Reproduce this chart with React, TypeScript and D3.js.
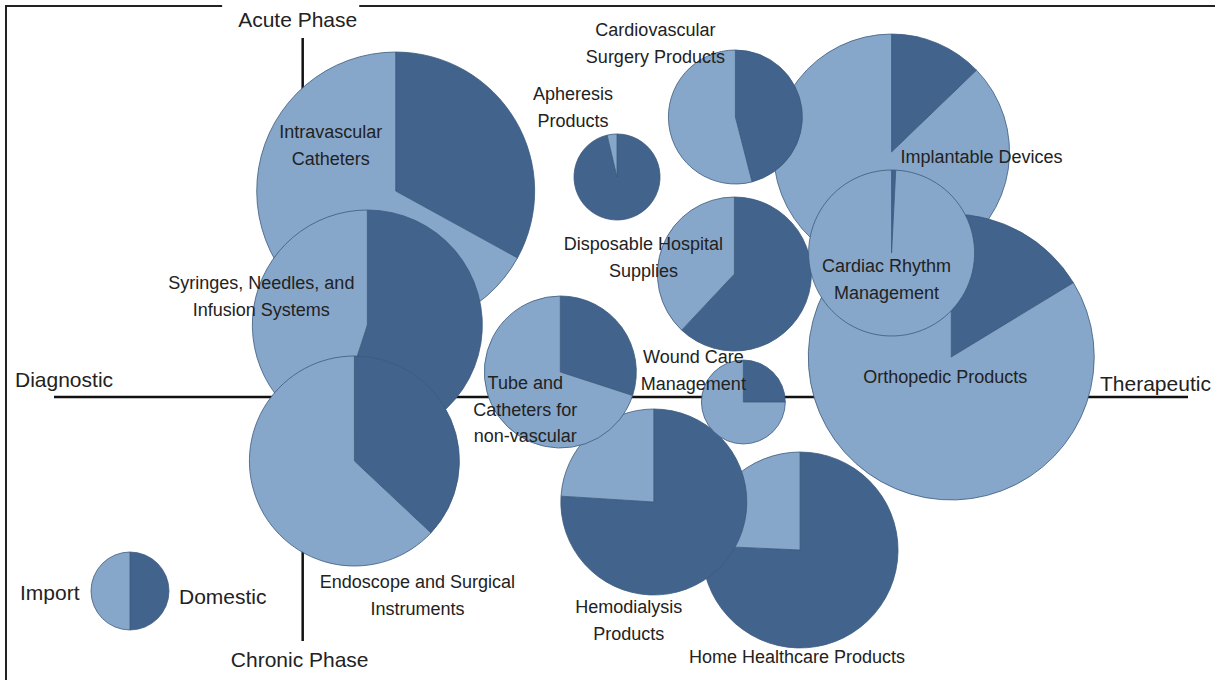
import React, { useEffect, useRef } from "react";
import * as d3 from "d3";

// market segments, position on the two axes, market size and domestic share
const segments = [
  "Implantable Devices",
  "Orthopedic Products",
  "Cardiovascular Surgery Products",
  "Disposable Hospital Supplies",
  "Cardiac Rhythm Management",
  "Intravascular Catheters",
  "Syringes, Needles, and Infusion Systems",
  "Endoscope and Surgical Instruments",
  "Home Healthcare Products",
  "Hemodialysis Products",
  "Tube and Catheters for non-vascular",
  "Wound Care Management",
  "Apheresis Products",
];
const labelLines = [
  ["Implantable Devices"],
  ["Orthopedic Products"],
  ["Cardiovascular", "Surgery Products"],
  ["Disposable Hospital", "Supplies"],
  ["Cardiac Rhythm", "Management"],
  ["Intravascular", "Catheters"],
  ["Syringes, Needles, and", "Infusion Systems"],
  ["Endoscope and Surgical", "Instruments"],
  ["Home Healthcare Products"],
  ["Hemodialysis", "Products"],
  ["Tube and", "Catheters for", "non-vascular"],
  ["Wound Care", "Management"],
  ["Apheresis", "Products"],
];
// diagnostic (-) .. therapeutic (+)
const therapeutic = [59.2, 65.2, 43.5, 43.4, 59.2, 9.35, 6.5, 5.2, 50.0, 35.3, 25.9, 44.3, 31.6];
// chronic (-) .. acute (+)
const acute = [24.5, 4.0, 28.0, 12.3, 14.4, 20.6, 7.2, -6.4, -15.3, -10.5, 2.5, -0.5, 22.0];
const marketSize = [1392, 2045, 449, 593, 689, 1932, 1323, 1103, 960, 865, 578, 176, 185];
const domesticShare = [0.128, 0.163, 0.46, 0.62, 0.008, 0.33, 0.55, 0.37, 0.757, 0.76, 0.3, 0.25, 0.963];

const legendSize = 152;
const legendShare = 0.5;

// label placement relative to each pie centre (layout only)
const labelOffsets = [
  [90, 5], [-6, 20], [-80, -87], [-91, -30], [-5, 13], [-65, -59], [-106, -42],
  [63, 121], [-3, 107], [-25, 105], [-35, 11], [-50, -45], [-44, -83],
];

const W = 1215;
const H = 680;
const LIGHT = "#86a7ca";
const DARK = "#41638c";
const EDGE = "#3c5a7e";
const FONT = "Liberation Sans, Arial, sans-serif";

export default function App() {
  const ref = useRef<SVGSVGElement>(null);

  useEffect(() => {
    const svg = d3.select(ref.current);
    svg.selectAll("*").remove();

    const x = d3.scaleLinear().domain([-25, 89]).range([54, 1188]);
    const y = d3.scaleLinear().domain([-24.3, 35.9]).range([640, 38]);
    const r = d3.scaleSqrt().domain([0, 2000]).range([0, 141.4]);

    const pie = d3.pie<number>().sort(null).value(d => d);

    // frame (top and left only)
    svg.append("path")
      .attr("d", `M6,${H} L6,6 L${W},6`)
      .attr("fill", "none")
      .attr("stroke", "#222")
      .attr("stroke-width", 2);

    // axes
    svg.append("line")
      .attr("x1", 54).attr("x2", 1188)
      .attr("y1", y(0)).attr("y2", y(0))
      .attr("stroke", "#111").attr("stroke-width", 2.5);
    svg.append("line")
      .attr("x1", x(0)).attr("x2", x(0))
      .attr("y1", 38).attr("y2", 641)
      .attr("stroke", "#111").attr("stroke-width", 2.5);

    const axisLabel = (t: string, px: number, py: number, anchor: string, bg = false) => {
      const g = svg.append("g");
      const txt = g.append("text")
        .attr("x", px).attr("y", py)
        .attr("text-anchor", anchor)
        .attr("dominant-baseline", "middle")
        .attr("font-family", FONT)
        .attr("font-size", 21)
        .attr("fill", "#222")
        .text(t);
      if (bg) {
        const b = (txt.node() as SVGTextElement).getBBox();
        g.insert("rect", "text")
          .attr("x", b.x - 16).attr("y", 0)
          .attr("width", b.width + 18).attr("height", b.y + b.height)
          .attr("fill", "#fff");
      }
    };
    axisLabel("Acute Phase", x(0) - 5, 21, "middle", true);
    axisLabel("Chronic Phase", x(0) - 3, 661, "middle");
    axisLabel("Diagnostic", 15, 381, "start");
    axisLabel("Therapeutic", 1100, 385, "start");

    const drawPie = (cx: number, cy: number, rad: number, share: number) => {
      const arc = d3.arc<d3.PieArcDatum<number>>().innerRadius(0).outerRadius(rad);
      const g = svg.append("g").attr("transform", `translate(${cx},${cy})`);
      g.selectAll("path")
        .data(pie([share, 1 - share]))
        .join("path")
        .attr("d", arc)
        .attr("fill", (_, i) => (i === 0 ? DARK : LIGHT))
        .attr("stroke", EDGE)
        .attr("stroke-width", 0.8)
        .attr("stroke-linejoin", "round");
    };

    segments.forEach((_, i) => {
      drawPie(x(therapeutic[i]), y(acute[i]), r(marketSize[i]), domesticShare[i]);
    });

    // labels on top
    segments.forEach((_, i) => {
      const cx = x(therapeutic[i]) + labelOffsets[i][0];
      const cy = y(acute[i]) + labelOffsets[i][1];
      const t = svg.append("text")
        .attr("text-anchor", "middle")
        .attr("font-family", FONT)
        .attr("font-size", 18)
        .attr("fill", "#222");
      labelLines[i].forEach((line, k) => {
        t.append("tspan")
          .attr("x", cx)
          .attr("y", cy + k * 26.5)
          .attr("dy", "0.35em")
          .text(line);
      });
    });

    // legend
    drawPie(130, 591, r(legendSize), legendShare);
    axisLabel("Import", 20, 594, "start");
    axisLabel("Domestic", 179, 598, "start");
  }, []);

  return (
    <svg
      ref={ref}
      width={W}
      height={H}
      style={{ position: "absolute", left: 0, top: 0, background: "#fff" }}
    />
  );
}
